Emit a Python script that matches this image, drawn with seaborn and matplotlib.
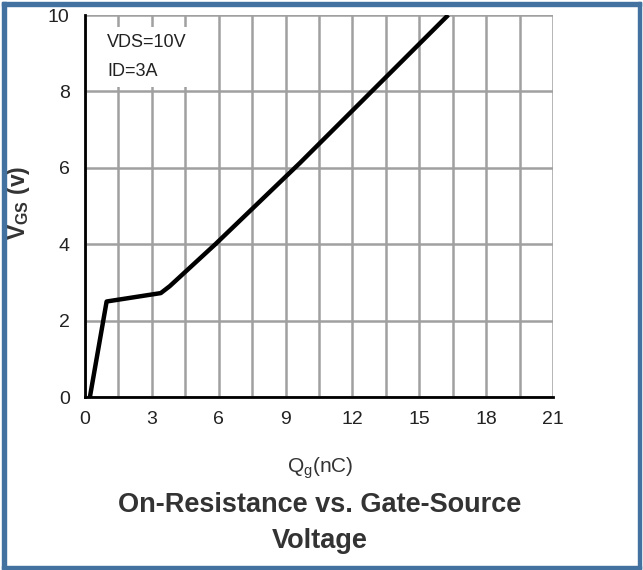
import matplotlib
matplotlib.use("Agg")
import matplotlib.pyplot as plt
from matplotlib.patches import Rectangle
import seaborn as sns
import numpy as np

# Gate charge curve: Qg (nC) vs VGS (V)
qg_nc = [0.22, 0.97, 3.40, 3.80, 5.85, 9.65, 16.30]
vgs_v = [0.00, 2.50, 2.72, 2.90, 4.00, 6.13, 10.00]

x_ticks = [0, 3, 6, 9, 12, 15, 18, 21]
y_ticks = [0, 2, 4, 6, 8, 10]
x_grid = np.arange(0, 21.01, 1.5)
conditions = "VDS=10V\nID=3A"

sns.set_style("white")
plt.rcParams["font.family"] = ["Liberation Sans", "DejaVu Sans"]
plt.rcParams["mathtext.fontset"] = "custom"
plt.rcParams["mathtext.rm"] = "Liberation Sans"
plt.rcParams["mathtext.bf"] = "Liberation Sans:bold"
plt.rcParams["mathtext.it"] = "Liberation Sans"

W, H = 643, 570
fig = plt.figure(figsize=(W / 100, H / 100), dpi=100)
ax = fig.add_axes([85 / W, 1 - 397 / H, (553 - 85) / W, (397 - 15) / H])

grid_col = "#a0a0a0"
for gx in x_grid:
    ax.axvline(gx, color=grid_col, lw=1.8, zorder=1)
for gy in y_ticks:
    ax.axhline(gy, color=grid_col, lw=1.8, zorder=1)

sns.lineplot(x=qg_nc, y=vgs_v, sort=False, color="black", lw=3.2,
             ax=ax, zorder=4, solid_capstyle="butt")

ax.set_xlim(0, 21)
ax.set_ylim(0, 10)
ax.set_xticks(x_ticks)
ax.set_yticks(y_ticks)
ax.tick_params(axis="both", length=0, labelsize=14, colors="#222222")
ax.tick_params(axis="x", pad=10)
ax.tick_params(axis="y", pad=11)

for side in ["top", "right"]:
    ax.spines[side].set_visible(False)
for side in ["left", "bottom"]:
    ax.spines[side].set_color("black")
    ax.spines[side].set_linewidth(2)
    ax.spines[side].set_zorder(5)

ax.text(1.0, 8.9, conditions, fontsize=13, color="#222222",
        va="center", ha="left", linespacing=1.95, zorder=3,
        bbox=dict(facecolor="white", edgecolor="none", pad=5))

fig.text(18 / W, 1 - 203 / H, r"$\mathbf{V}_{\mathbf{GS}}$ (v)", rotation=90,
         ha="center", va="center", fontsize=16.5, fontweight="bold",
         color="#333333")
fig.text(320 / W, 1 - 468 / H, r"Q$_{\mathrm{g}}$(nC)", ha="center",
         va="center", fontsize=15, color="#333333")
fig.text(320 / W, 1 - 523 / H, "On-Resistance vs. Gate-Source\nVoltage",
         ha="center", va="center", fontsize=19.5, fontweight="bold",
         color="#333333", linespacing=1.5)

# frame around the whole figure
border = "#4472a0"
for (x0, y0, w, h) in [(2, 1, 4, H - 3), (2, 1, W - 4, 3),
                       (2, H - 6, W - 4, 4), (W - 5, 1, 3, H - 3)]:
    fig.patches.append(Rectangle((x0 / W, y0 / H), w / W, h / H,
                                 transform=fig.transFigure, color=border,
                                 zorder=10))

fig.savefig("out.png", dpi=100, facecolor="white")
